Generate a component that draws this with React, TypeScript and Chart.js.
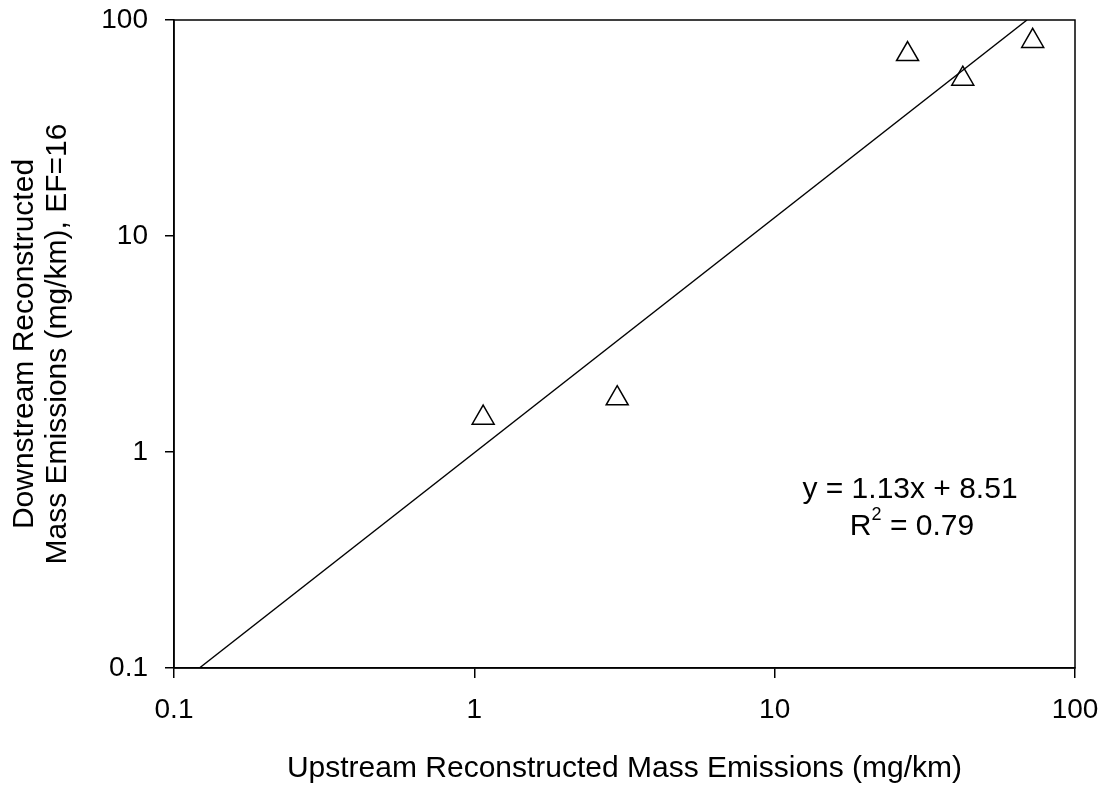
import React, { useEffect, useRef } from "react";
import { Chart, registerables } from "chart.js";

Chart.register(...registerables);

// ---- data ----
const upstreamX = [1.07, 2.99, 27.7, 42.3, 72.3];
const downstreamY = [1.44, 1.77, 69.4, 53.4, 79.9];
const fitX = [0.1215, 69.2];
const fitY = [0.1, 100];
const tickValues = [0.1, 1, 10, 100];
const xTitle = "Upstream Reconstructed Mass Emissions (mg/km)";
const yTitle = ["Downstream Reconstructed", "Mass Emissions (mg/km), EF=16"];
const eqLine1 = "y = 1.13x + 8.51";
const eqR2Value = "0.79";

const FONT = "'Liberation Sans', Arial, Helvetica, sans-serif";

const framePlugin = {
  id: "frame",
  afterDraw(chart: any) {
    const { ctx, chartArea } = chart;
    ctx.save();
    ctx.strokeStyle = "#000";
    ctx.lineWidth = 1.5;
    ctx.strokeRect(chartArea.left, chartArea.top, chartArea.right - chartArea.left, chartArea.bottom - chartArea.top);
    ctx.restore();
  },
};

const equationPlugin = {
  id: "equation",
  afterDraw(chart: any) {
    const { ctx, chartArea } = chart;
    const cx1 = chartArea.left + 736;
    const cy1 = chartArea.top + 470;
    const cx2 = chartArea.left + 738;
    const cy2 = chartArea.top + 507;
    ctx.save();
    ctx.fillStyle = "#000";
    ctx.textBaseline = "middle";
    ctx.font = `30px ${FONT}`;
    ctx.textAlign = "center";
    ctx.fillText(eqLine1, cx1, cy1);
    // R^2 = 0.79
    ctx.textAlign = "left";
    const rW = ctx.measureText("R").width;
    const restText = " = " + eqR2Value;
    const restW = ctx.measureText(restText).width;
    ctx.font = `18px ${FONT}`;
    const supW = ctx.measureText("2").width;
    const total = rW + supW + restW;
    let x = cx2 - total / 2;
    ctx.font = `30px ${FONT}`;
    ctx.fillText("R", x, cy2);
    x += rW;
    ctx.font = `18px ${FONT}`;
    ctx.fillText("2", x, cy2 - 12);
    x += supW;
    ctx.font = `30px ${FONT}`;
    ctx.fillText(restText, x, cy2);
    ctx.restore();
  },
};

export default function App() {
  const canvasRef = useRef<HTMLCanvasElement | null>(null);

  useEffect(() => {
    if (!canvasRef.current) return;
    const chart = new Chart(canvasRef.current, {
      type: "scatter",
      data: {
        datasets: [
          {
            type: "line",
            label: "fit",
            data: fitX.map((x, i) => ({ x, y: fitY[i] })),
            borderColor: "#000",
            borderWidth: 1.4,
            pointRadius: 0,
            fill: false,
            tension: 0,
          } as any,
          {
            label: "data",
            data: upstreamX.map((x, i) => ({ x, y: downstreamY[i] })),
            pointStyle: "triangle",
            pointRadius: 12.7,
            borderColor: "#000",
            borderWidth: 1.5,
            backgroundColor: "rgba(255,255,255,0)",
          },
        ],
      },
      options: {
        animation: false,
        responsive: false,
        devicePixelRatio: 1,
        layout: { padding: { top: 20, right: 31, left: 0, bottom: 0 } },
        plugins: {
          legend: { display: false },
          tooltip: { enabled: false },
        },
        scales: {
          x: {
            type: "logarithmic",
            min: 0.1,
            max: 100,
            afterBuildTicks: (scale: any) => {
              scale.ticks = tickValues.map((v) => ({ value: v }));
            },
            afterFit: (scale: any) => {
              scale.height = 120;
              scale.paddingLeft = 0;
              scale.paddingRight = 0;
            },
            grid: {
              display: true,
              drawOnChartArea: false,
              drawTicks: true,
              tickLength: 10,
              color: "#000",
              lineWidth: 1.5,
            },
            border: { display: true, color: "#000", width: 1.5 },
            ticks: {
              autoSkip: false,
              maxRotation: 0,
              padding: 15,
              color: "#000",
              font: { family: FONT, size: 28 },
              callback: (v: any) => String(v),
            },
            title: {
              display: true,
              text: xTitle,
              color: "#000",
              font: { family: FONT, size: 30, lineHeight: 1.2 },
              padding: { top: 0, bottom: 1 },
            },
          },
          y: {
            type: "logarithmic",
            min: 0.1,
            max: 100,
            afterBuildTicks: (scale: any) => {
              scale.ticks = tickValues.map((v) => ({ value: v }));
            },
            afterFit: (scale: any) => {
              scale.width = 174;
              scale.paddingTop = 0;
              scale.paddingBottom = 0;
            },
            grid: {
              display: true,
              drawOnChartArea: false,
              drawTicks: true,
              tickLength: 9,
              color: "#000",
              lineWidth: 1.5,
            },
            border: { display: true, color: "#000", width: 1.5 },
            ticks: {
              autoSkip: false,
              padding: 17,
              color: "#000",
              font: { family: FONT, size: 28 },
              callback: (v: any) => String(v),
            },
            title: {
              display: true,
              text: yTitle,
              color: "#000",
              font: { family: FONT, size: 30, lineHeight: 1.1 },
              padding: { top: 8, bottom: 0 },
            },
          },
        },
      } as any,
      plugins: [framePlugin, equationPlugin],
    });
    return () => chart.destroy();
  }, []);

  return (
    <div style={{ position: "absolute", left: 0, top: 0, width: 1106, height: 788, background: "#fff" }}>
      <canvas ref={canvasRef} width={1106} height={788} style={{ width: 1106, height: 788, display: "block" }} />
    </div>
  );
}
